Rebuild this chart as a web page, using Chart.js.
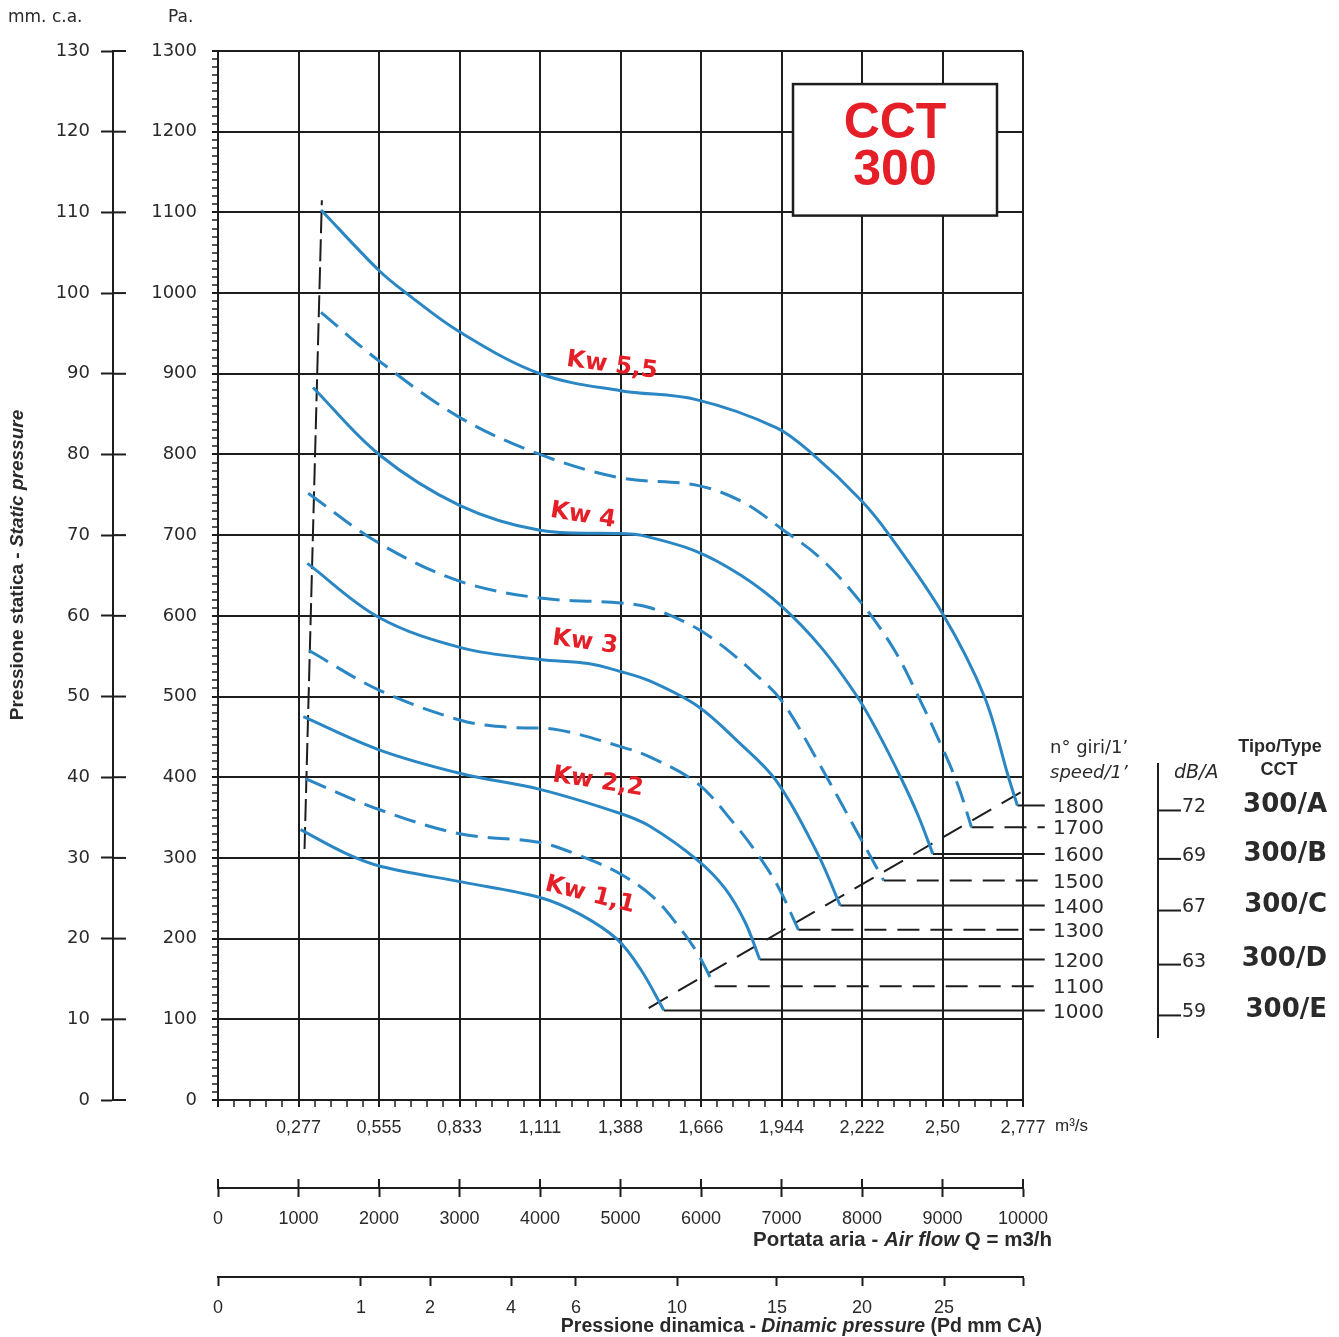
<!DOCTYPE html>
<html><head><meta charset="utf-8">
<script src="https://cdn.jsdelivr.net/npm/chart.js@4"></script>
<style>html,body{margin:0;padding:0;background:#fff}canvas{display:block}</style>
</head><body>
<canvas id="c" width="1339" height="1337"></canvas>
<script>
// ---------- DATA ----------
const rpmSpeeds = [1800, 1700, 1600, 1500, 1400, 1300, 1200, 1100, 1000];
const curveStyles = ['solid','dashed','solid','dashed','solid','dashed','solid','dashed','solid'];
const curve1800 = [[1280,1103],[2000,1028],[2338,1000],[3000,952],[4000,900],[5000,879],[5940,868],[6940,833],[7390,800],[8000,742],[8340,700],[9000,603],[9520,500],[9820,400],[9930,365]];
const curve1700 = [[1280,976],[2000,916],[3000,846],[4000,800],[5000,771],[5940,762],[6500,742],[7000,708],[7500,670],[8000,615],[8400,558],[8700,500],[9000,436],[9200,388],[9360,338]];
const curve1600 = [[1180,883],[2000,800],[3000,737],[4000,706],[5000,702],[5250,700],[5940,680],[6500,650],[7000,612],[7500,560],[7940,500],[8200,455],[8480,400],[8700,352],[8880,305]];
const curve1500 = [[1120,752],[2000,690],[3000,643],[4000,622],[5000,616],[5370,610],[5940,585],[6300,560],[6650,530],[7000,495],[7450,420],[7950,330],[8270,272]];
const curve1400 = [[1110,665],[2000,598],[3040,560],[4000,546],[4600,541],[5000,531],[5370,519],[5960,488],[6450,445],[6940,395],[7450,305],[7730,241]];
const curve1300 = [[1130,557],[2000,508],[3000,471],[3590,462],[4210,459],[5000,438],[5370,425],[5960,392],[6400,344],[6700,305],[6960,264],[7210,211]];
const curve1200 = [[1060,475],[2000,434],[3040,404],[4000,385],[5000,355],[5370,339],[5960,297],[6300,262],[6550,220],[6730,174]];
const curve1100 = [[1090,398],[2000,360],[3000,330],[4000,319],[4540,301],[5000,280],[5400,252],[5700,218],[5950,183],[6170,141]];
const curve1000 = [[1025,335],[1600,305],[2040,289],[3040,270],[4000,251],[4500,230],[4960,199],[5250,162],[5540,111]];
const curves = [curve1800, curve1700, curve1600, curve1500, curve1400, curve1300, curve1200, curve1100, curve1000];
const leaderEndQ = 10270;
const limitLeft = [[1075,311],[1290,1115]];
const limitDiagonal = [[5350,114],[10000,383]];

const kwLabels = ['Kw 5,5','Kw 4','Kw 3','Kw 2,2','Kw 1,1'];
const kwAnchors = [[4894,910,7.7],[4534,724,9],[4559,567,7.7],[4720,394,8.7],[4621,254,14]];

const dbLevels = ['72','69','67','63','59'];
const typeNames = ['300/A','300/B','300/C','300/D','300/E'];
const typeRpmIndex = [0,2,4,6,8];

const flowM3sLabels = ['0,277','0,555','0,833','1,111','1,388','1,666','1,944','2,222','2,50','2,777'];
const pdLabels = ['0','1','2','4','6','10','15','20','25',''];
const pdTickQ = [0,1776,2634,3640,4447,5702,6944,8000,9019,10000];

// ---------- STYLE ----------
const GRID = '#1d1d1d', BLUE = '#2b87c3', RED = '#e51f27', TXT = '#2a2a2a';
const NARROW = "'Liberation Sans Narrow','Liberation Sans',Arial,sans-serif";
const SANS = "'Liberation Sans',Arial,sans-serif";
const DEJ = "'DejaVu Sans',sans-serif";

function range(a,b,s){const r=[];for(let v=a;v<=b+1e-9;v+=s)r.push(v);return r;}
const pts = arr => arr.map(p => ({x:p[0], y:p[1]}));

const datasets = [];
curves.forEach((c,i) => {
  datasets.push({data: pts(c), borderColor: BLUE, borderWidth: 3, borderDash: curveStyles[i]==='dashed'?[22,10]:[],
    tension:0.35, pointRadius:0, fill:false});
});
curves.forEach((c,i) => {
  const last = c[c.length-1];
  datasets.push({data: pts([[last[0], last[1]],[leaderEndQ, last[1]]]), borderColor: GRID, borderWidth: 2,
    borderDash: curveStyles[i]==='dashed'?[22,11]:[], pointRadius:0, clip:false, fill:false, tension:0});
});
datasets.push({data: pts(limitLeft), borderColor: GRID, borderWidth: 2, borderDash:[22,6], pointRadius:0, tension:0, fill:false});
datasets.push({data: pts(limitDiagonal), borderColor: GRID, borderWidth: 2, borderDash:[22,12], pointRadius:0, tension:0, fill:false});

function mixed(ctx, segs, x, y, align){
  let w=0; segs.forEach(s=>{ctx.font=s.f; s.w=ctx.measureText(s.t).width; w+=s.w;});
  let cx = align==='right'? x-w : align==='center'? x-w/2 : x;
  ctx.textAlign='left';
  segs.forEach(s=>{ctx.font=s.f; ctx.fillText(s.t,cx,y); cx+=s.w;});
}

const extras = {
  id:'extras',
  afterDraw(chart){
    const {ctx} = chart; const x=chart.scales.x, y=chart.scales.y, ymm=chart.scales.ymm, xq=chart.scales.xq;
    ctx.save();
    ctx.strokeStyle=GRID; ctx.lineWidth=2;
    ymm.ticks.forEach(t=>{const py=ymm.getPixelForValue(t.value); ctx.beginPath(); ctx.moveTo(ymm.right,py); ctx.lineTo(ymm.right+13,py); ctx.stroke();});
    xq.ticks.forEach(t=>{const px=xq.getPixelForValue(t.value); ctx.beginPath(); ctx.moveTo(px,xq.top); ctx.lineTo(px,xq.top-9); ctx.stroke();});

    // CCT box
    const bx1=x.getPixelForValue(7143), by1=y.getPixelForValue(1259), bx2=x.getPixelForValue(9677), by2=y.getPixelForValue(1096);
    ctx.fillStyle='#fff'; ctx.fillRect(bx1,by1,bx2-bx1,by2-by1);
    ctx.strokeStyle=GRID; ctx.lineWidth=2.5; ctx.strokeRect(bx1,by1,bx2-bx1,by2-by1);
    ctx.fillStyle=RED; ctx.textAlign='center'; ctx.textBaseline='middle';
    ctx.font="bold 50px "+SANS;
    ctx.fillText('CCT',(bx1+bx2)/2,124); ctx.fillText('300',(bx1+bx2)/2,171);

    // Kw labels
    ctx.font="bold 24px "+DEJ;
    kwLabels.forEach((l,i)=>{const a=kwAnchors[i]; ctx.save(); ctx.translate(x.getPixelForValue(a[0]), y.getPixelForValue(a[1])); ctx.rotate(a[2]*Math.PI/180); ctx.fillText(l,0,0); ctx.restore();});

    // right side
    ctx.fillStyle=TXT; ctx.textAlign='left'; ctx.textBaseline='middle';
    const lx = x.getPixelForValue(10000)+30;
    ctx.font="20px "+DEJ;
    curves.forEach((c,i)=>{const py=y.getPixelForValue(c[c.length-1][1]); ctx.fillText(String(rpmSpeeds[i]), lx, py+2);});
    ctx.font="18px "+DEJ; ctx.fillText('n° giri/1’', 1050, 748);
    ctx.font="italic 18px "+DEJ; ctx.fillText('speed/1’', 1050, 773);
    ctx.font="italic 19px "+DEJ; ctx.fillText('dB/A', 1174, 773);
    ctx.strokeStyle=GRID; ctx.lineWidth=2;
    ctx.beginPath(); ctx.moveTo(1158,763); ctx.lineTo(1158,1038); ctx.stroke();
    typeRpmIndex.forEach((ri,k)=>{const c=curves[ri]; const py=y.getPixelForValue(c[c.length-1][1])+2;
      ctx.beginPath(); ctx.moveTo(1159,py+3); ctx.lineTo(1181,py+3); ctx.stroke();
      ctx.font="19px "+DEJ; ctx.textAlign='left'; ctx.fillText(dbLevels[k],1182,py);
      ctx.font="bold 26px "+DEJ; ctx.textAlign='right'; ctx.fillText(typeNames[k],1327,py-2);
    });
    ctx.textAlign='center'; ctx.font="bold 18px "+SANS;
    ctx.fillText('Tipo/Type',1280,747); ctx.fillText('CCT',1279,770);

    // left headers
    ctx.textAlign='left'; ctx.font="17px "+DEJ;
    ctx.fillText('mm. c.a.',8,18); ctx.fillText('Pa.',168,18);
    // rotated title
    ctx.save(); ctx.translate(18,565); ctx.rotate(-Math.PI/2); ctx.textBaseline='middle';
    mixed(ctx,[{t:'Pressione statica - ',f:"bold 19px "+SANS},{t:'Static pressure',f:"bold italic 19px "+SANS}],0,0,'center');
    ctx.restore();

    // bottom
    ctx.textBaseline='middle'; ctx.fillStyle=TXT;
    ctx.font="17px "+NARROW; ctx.textAlign='left';
    ctx.fillText('m³/s', x.getPixelForValue(10000)+32, 1126);
    mixed(ctx,[{t:'Portata aria - ',f:"bold 20.5px "+NARROW},{t:'Air flow',f:"bold italic 20.5px "+NARROW},{t:' Q = m3/h',f:"bold 20.5px "+NARROW}],1052,1240,'right');
    mixed(ctx,[{t:'Pressione dinamica - ',f:"bold 19.5px "+NARROW},{t:'Dinamic pressure',f:"bold italic 19.5px "+NARROW},{t:' (Pd mm CA)',f:"bold 19.5px "+NARROW}],1042,1327,'right');
    ctx.restore();
  }
};

const tickFontX = {family: NARROW, size: 18};
new Chart(document.getElementById('c'), {
  type:'line',
  data:{datasets},
  options:{
    responsive:false, animation:false, devicePixelRatio:1,
    layout:{padding:{left:0, top:51, right:316, bottom:0}},
    plugins:{legend:{display:false}, tooltip:{enabled:false}},
    elements:{point:{radius:0}},
    scales:{
      x:{type:'linear', position:'bottom', min:0, max:10000, weight:0,
        afterBuildTicks:s=>{s.ticks=range(0,10000,200).map(v=>({value:v}));},
        afterFit:s=>{s.height=88;},
        grid:{color:c=>(c.tick && c.tick.value%1000===0)?GRID:'rgba(0,0,0,0)', lineWidth:2, tickColor:GRID,
              tickWidth:c=>(c.tick && c.tick.value%1000===0)?2:1.5, tickLength:7},
        border:{display:true, color:GRID, width:2},
        ticks:{autoSkip:false, maxRotation:0, minRotation:0, padding:10, color:TXT, font:tickFontX,
               callback:(v)=>(v%1000===0 && v>0)?flowM3sLabels[v/1000-1]:''}
      },
      xq:{type:'linear', position:'bottom', min:0, max:10000, weight:1,
        afterBuildTicks:s=>{s.ticks=range(0,10000,1000).map(v=>({value:v}));},
        afterFit:s=>{s.height=89;},
        grid:{drawOnChartArea:false, tickColor:GRID, tickWidth:2, tickLength:9},
        border:{display:true, color:GRID, width:2},
        ticks:{autoSkip:false, maxRotation:0, padding:11, color:TXT, font:tickFontX, callback:v=>String(v)}
      },
      xpd:{type:'linear', position:'bottom', min:0, max:10000, weight:2,
        afterBuildTicks:s=>{s.ticks=pdTickQ.map(v=>({value:v}));},
        afterFit:s=>{s.height=60;},
        grid:{drawOnChartArea:false, tickColor:GRID, tickWidth:2, tickLength:9},
        border:{display:true, color:GRID, width:2},
        ticks:{autoSkip:false, maxRotation:0, padding:11, color:TXT, font:tickFontX, callback:(v,i)=>pdLabels[i]}
      },
      y:{type:'linear', position:'left', min:0, max:1300, weight:0,
        afterBuildTicks:s=>{s.ticks=range(0,1300,10).map(v=>({value:Math.round(v)}));},
        afterFit:s=>{s.width=105;},
        grid:{color:c=>(c.tick && c.tick.value%100===0)?GRID:'rgba(0,0,0,0)', lineWidth:2, tickColor:GRID,
              tickWidth:c=>(c.tick && c.tick.value%100===0)?2:1.5, tickLength:6},
        border:{display:true, color:GRID, width:2},
        ticks:{autoSkip:false, padding:15, color:TXT, font:{family:DEJ, size:18}, callback:v=>(v%100===0)?String(v):''}
      },
      ymm:{type:'linear', position:'left', min:0, max:130, weight:1,
        afterBuildTicks:s=>{s.ticks=range(0,130,10).map(v=>({value:Math.round(v)}));},
        afterFit:s=>{s.width=113;},
        grid:{drawOnChartArea:false, tickColor:GRID, tickWidth:2, tickLength:12},
        border:{display:true, color:GRID, width:2},
        ticks:{autoSkip:false, padding:11, color:TXT, font:{family:DEJ, size:18}, callback:v=>String(v)}
      }
    }
  },
  plugins:[extras]
});
</script>
</body></html>
